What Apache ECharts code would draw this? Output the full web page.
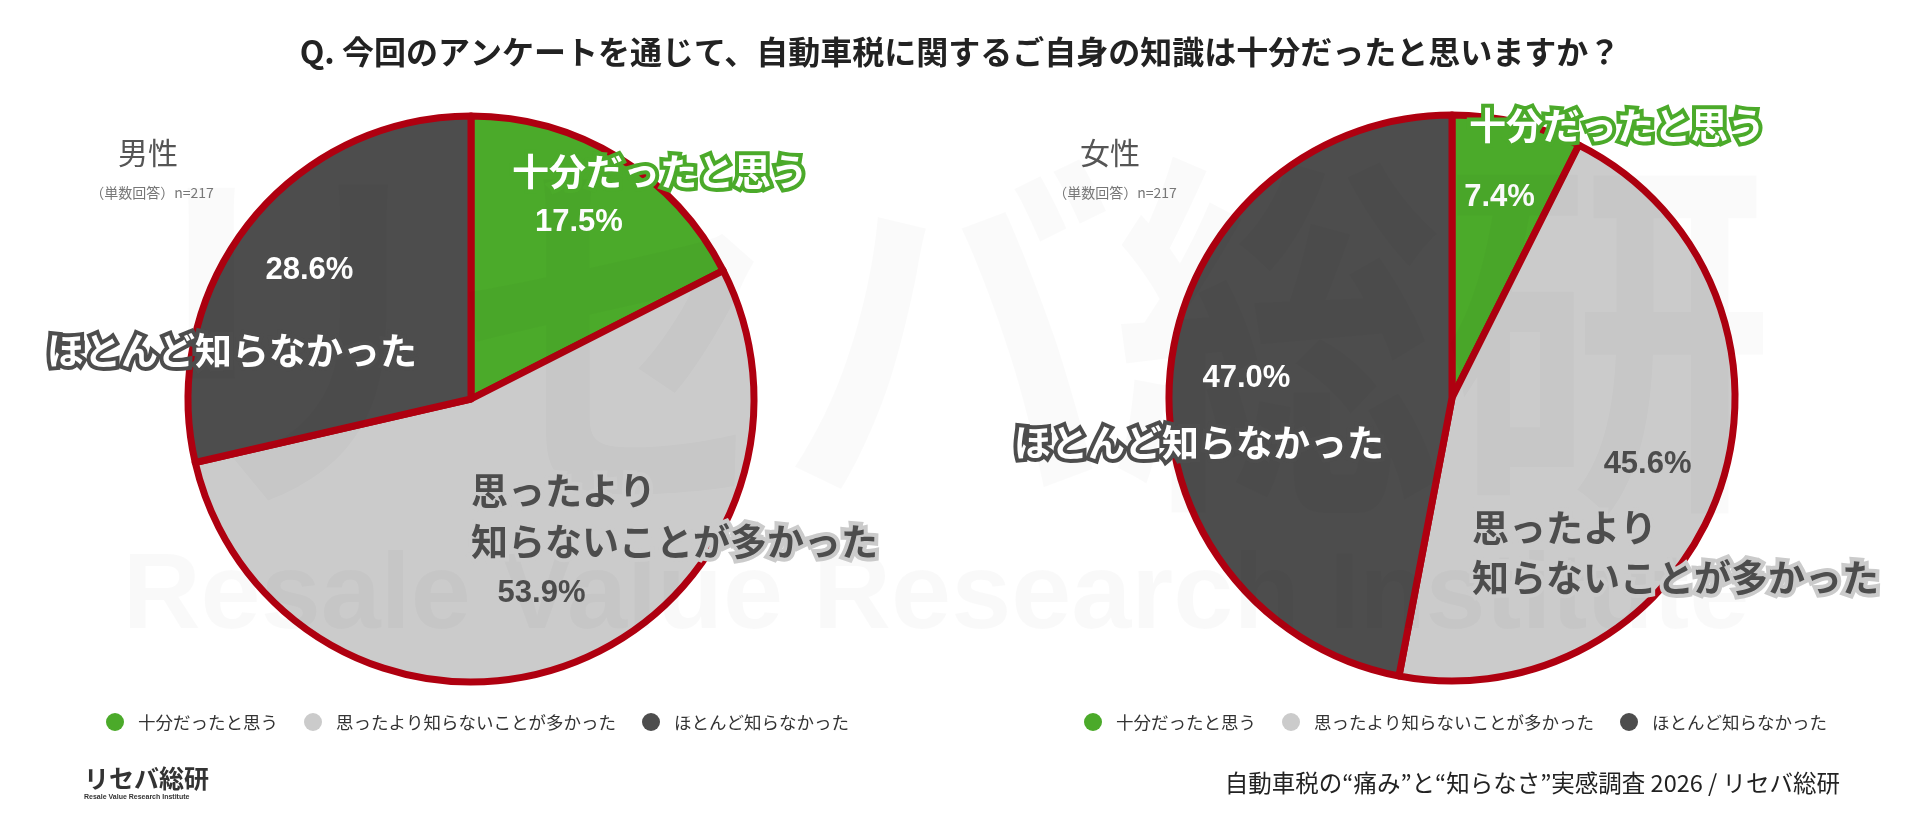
<!DOCTYPE html>
<html>
<head>
<meta charset="utf-8">
<script src="https://cdn.jsdelivr.net/npm/echarts@6/dist/echarts.min.js"></script>
<style>
html,body{margin:0;padding:0;background:#fff;}
#c{width:1920px;height:817px;}
</style>
</head>
<body>
<div id="c"></div>
<script>
const titleText = 'Q. 今回のアンケートを通じて、自動車税に関するご自身の知識は十分だったと思いますか？';
const categories = ['十分だったと思う', '思ったより知らないことが多かった', 'ほとんど知らなかった'];
const maleValues = [17.5, 53.9, 28.6];
const femaleValues = [7.4, 45.6, 47.0];
const groupNames = ['男性', '女性'];
const sampleNote = '（単数回答）n=217';
const sliceColors = ['#4BAA2A', '#CBCBCB', '#4D4D4D'];
const pctColors = ['#FFFFFF', '#4D4D4D', '#FFFFFF'];
const sourceText = '自動車税の“痛み”と“知らなさ”実感調査 2026 / リセバ総研';

const JP = '"Noto Sans CJK JP", "Noto Sans", sans-serif';
const NUM = '"Liberation Sans", Arial, sans-serif';
const R = 283;
const centers = [[471, 399], [1452, 398]];
const borderColor = '#AF0010';

function mainPie(values, center) {
  return {
    type: 'pie', center: center, radius: [0, R], startAngle: 90, clockwise: true,
    silent: true, z: 2,
    label: { show: false }, labelLine: { show: false },
    itemStyle: { borderColor: borderColor, borderWidth: 7, borderJoin: 'round' },
    data: categories.map((n, i) => ({ name: n, value: values[i], itemStyle: { color: sliceColors[i] } }))
  };
}
function labelPie(values, center) {
  return {
    type: 'pie', center: center, radius: [124, R], startAngle: 90, clockwise: true,
    silent: true, z: 5, legendHoverLink: false,
    itemStyle: { color: 'rgba(0,0,0,0)', borderWidth: 0 },
    label: {
      show: true, position: 'inside',
      formatter: p => p.value.toFixed(1) + '%',
      fontFamily: NUM, fontWeight: 'bold', fontSize: 31
    },
    labelLine: { show: false },
    data: categories.map((n, i) => ({ name: n, value: values[i], label: { color: pctColors[i] } }))
  };
}

function outlined(text, x, y, fill, stroke) {
  return {
    type: 'text', x: x, y: y, z: 20, silent: true,
    style: {
      text: text, fill: fill, stroke: stroke, lineWidth: 8,
      font: 'bold 37px ' + JP, textAlign: 'left', textVerticalAlign: 'middle',
      shadowColor: 'rgba(0,0,0,0.25)', shadowBlur: 3, shadowOffsetX: 2, shadowOffsetY: 2
    }
  };
}

const legendCommon = {
  data: categories, icon: 'circle', itemWidth: 18, itemHeight: 20, itemGap: 26,
  orient: 'horizontal', selectedMode: false,
  itemStyle: { borderWidth: 0 },
  textStyle: { fontFamily: JP, fontSize: 17.5, color: '#333', padding: [0, 0, 0, 9] }
};

const chart = echarts.init(document.getElementById('c'), null, { renderer: 'canvas' });
chart.setOption({
  backgroundColor: '#ffffff',
  animation: false,
  title: {
    text: titleText, left: 'center', top: 31,
    textStyle: { fontFamily: JP, fontSize: 32, fontWeight: 'bold', color: '#222' }
  },
  legend: [
    Object.assign({}, legendCommon, { left: 101, top: 708 }),
    Object.assign({}, legendCommon, { left: 1079, top: 708 })
  ],
  series: [
    mainPie(maleValues, centers[0]),
    mainPie(femaleValues, centers[1]),
    labelPie(maleValues, centers[0]),
    labelPie(femaleValues, centers[1])
  ],
  graphic: [
    // watermark
    { type: 'text', x: 948, y: 335, z: 10, silent: true, scaleY: 1.15,
      style: { text: 'リセバ総研', font: 'bold 330px ' + JP, fill: 'rgba(0,0,0,0.02)', textAlign: 'center', textVerticalAlign: 'middle' } },
    { type: 'text', x: 936, y: 598, z: 10, silent: true,
      style: { text: 'Resale Value Research Institute', font: 'bold 108px ' + NUM, fill: 'rgba(0,0,0,0.022)', textAlign: 'center', textVerticalAlign: 'middle' } },
    // group labels
    { type: 'text', x: 148, y: 153, z: 20, style: { text: groupNames[0], font: '30px ' + JP, fill: '#555', textAlign: 'center', textVerticalAlign: 'middle' } },
    { type: 'text', x: 152, y: 193, z: 20, style: { text: sampleNote, font: '14px ' + JP, fill: '#777', textAlign: 'center', textVerticalAlign: 'middle' } },
    { type: 'text', x: 1110, y: 153, z: 20, style: { text: groupNames[1], font: '30px ' + JP, fill: '#555', textAlign: 'center', textVerticalAlign: 'middle' } },
    { type: 'text', x: 1115, y: 193, z: 20, style: { text: sampleNote, font: '14px ' + JP, fill: '#777', textAlign: 'center', textVerticalAlign: 'middle' } },
    // category callouts left
    outlined(categories[0], 512, 172, '#FFFFFF', sliceColors[0]),
    outlined(categories[2], 47, 351, '#FFFFFF', sliceColors[2]),
    outlined('思ったより', 471, 491, '#4D4D4D', sliceColors[1]),
    outlined('知らないことが多かった', 471, 542, '#4D4D4D', sliceColors[1]),
    // category callouts right
    outlined(categories[0], 1469, 126, '#FFFFFF', sliceColors[0]),
    outlined(categories[2], 1014, 443, '#FFFFFF', sliceColors[2]),
    outlined('思ったより', 1472, 528, '#4D4D4D', sliceColors[1]),
    outlined('知らないことが多かった', 1472, 578, '#4D4D4D', sliceColors[1]),
    // logo
    { type: 'text', x: 84, y: 778, z: 20, style: { text: 'リセバ総研', font: 'bold 25px ' + JP, fill: '#333', textAlign: 'left', textVerticalAlign: 'middle' } },
    { type: 'text', x: 84, y: 797, z: 20, style: { text: 'Resale Value Research Institute', font: 'bold 7px ' + NUM, fill: '#333', textAlign: 'left', textVerticalAlign: 'middle' } },
    // source
    { type: 'text', x: 1840, y: 783, z: 20, style: { text: sourceText, font: '23.5px ' + JP, fill: '#222', textAlign: 'right', textVerticalAlign: 'middle' } }
  ]
});
</script>
</body>
</html>
